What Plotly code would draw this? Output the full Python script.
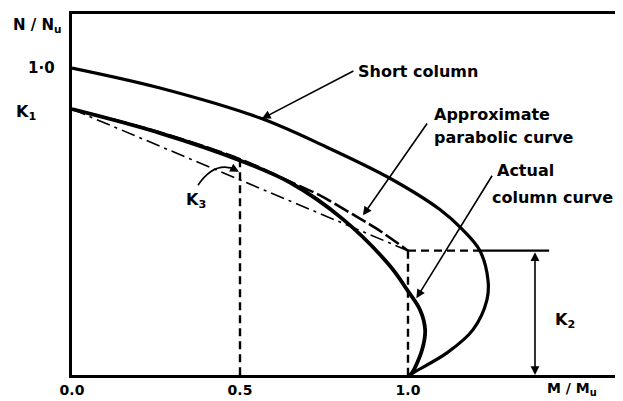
import plotly.graph_objects as go

# values (x = M/Mu, y = N/Nu)
K1 = 0.866
K2 = 0.405

short_x = [0.0, 0.262, 0.560, 0.753, 0.946, 1.095, 1.161, 1.214, 1.238, 1.235, 1.193, 1.116, 1.015, 1.006]
short_y = [1.0, 0.935, 0.837, 0.745, 0.641, 0.539, 0.475, 0.405, 0.310, 0.245, 0.147, 0.072, 0.007, 0.0]

actual_x = [0.0, 0.262, 0.5, 0.649, 0.807, 0.946, 0.997, 1.036, 1.051, 1.042, 1.012, 1.004]
actual_y = [K1, 0.788, 0.699, 0.627, 0.507, 0.356, 0.278, 0.212, 0.147, 0.082, 0.007, 0.0]

parab_x = [0.0, 0.262, 0.5, 0.649, 0.738, 0.827, 0.902, 1.0]
parab_y = [K1, 0.790, 0.703, 0.630, 0.585, 0.529, 0.480, K2]

chord_x = [0.0, 1.0]
chord_y = [K1, K2]

K2_dash_end = 1.214
K2_line_end = 1.42
K2_arrow_x = 1.378

X_MAX = 1.631
Y_MAX = 1.176

FONT = dict(family="DejaVu Sans", size=16, color="black", weight="bold")
INK = "black"

fig = go.Figure()

fig.add_trace(go.Scatter(x=short_x, y=short_y, mode="lines",
                         line=dict(color=INK, width=3.2, shape="spline")))
fig.add_trace(go.Scatter(x=actual_x, y=actual_y, mode="lines",
                         line=dict(color=INK, width=3.8, shape="spline")))
fig.add_trace(go.Scatter(x=parab_x, y=parab_y, mode="lines",
                         line=dict(color=INK, width=2.6, shape="spline", dash="16px,4px")))
fig.add_trace(go.Scatter(x=chord_x, y=chord_y, mode="lines",
                         line=dict(color=INK, width=1.6, dash="14px,5px,3px,5px")))

# dashed verticals at 0.5 and 1.0, horizontal at K2
fig.add_trace(go.Scatter(x=[0.5, 0.5], y=[parab_y[2], 0], mode="lines",
                         line=dict(color=INK, width=2.4, dash="8px,5px")))
fig.add_trace(go.Scatter(x=[1.0, 1.0], y=[K2, 0], mode="lines",
                         line=dict(color=INK, width=2.4, dash="8px,5px")))
fig.add_trace(go.Scatter(x=[1.0, K2_dash_end], y=[K2, K2], mode="lines",
                         line=dict(color=INK, width=2.2, dash="8px,5px")))
fig.add_trace(go.Scatter(x=[K2_dash_end, K2_line_end], y=[K2, K2], mode="lines",
                         line=dict(color=INK, width=2.2)))

# K3 curved pointer
fig.add_shape(type="path", path="M 0.375,0.618 Q 0.425,0.700 0.49,0.668",
              xref="x", yref="y", line=dict(color=INK, width=1.6))

ann = []


def arrow(x, y, ax, ay, side="end"):
    ann.append(dict(x=x, y=y, ax=ax, ay=ay, xref="x", yref="y", axref="x", ayref="y",
                    text="", showarrow=True, arrowhead=2, arrowsize=1.1, arrowwidth=1.6,
                    arrowcolor=INK, arrowside=side))


def label(text, x, y, xanchor="left", size=16):
    # placed in paper units so labels outside the axes still show
    f = dict(FONT)
    f["size"] = size
    ann.append(dict(x=x / X_MAX, y=y / Y_MAX, xref="paper", yref="paper", text=text,
                    showarrow=False, xanchor=xanchor, yanchor="middle", font=f))


arrow(0.565, 0.835, 0.842, 0.993)
label("Short column", 0.845, 0.99)

arrow(0.866, 0.520, 1.060, 0.824)
label("Approximate", 1.071, 0.850)
label("parabolic curve", 1.071, 0.775)

arrow(1.025, 0.250, 1.253, 0.654)
label("Actual", 1.259, 0.667)
label("column curve", 1.244, 0.578)

arrow(K2_arrow_x, 0.0, K2_arrow_x, K2, side="end+start")
label("K<sub>2</sub>", 1.432, 0.176)

arrow(0.497, 0.662, 0.485, 0.669)
label("K<sub>3</sub>", 0.369, 0.569, xanchor="center")

label("N / N<sub>u</sub>", -0.104, 1.137, xanchor="center", size=15)
label("1·0", -0.045, 1.0, xanchor="right", size=15)
label("K<sub>1</sub>", -0.101, K1 - 0.01, xanchor="right", size=16)
label("M / M<sub>u</sub>", 1.488, -0.046, xanchor="center", size=14)

# page body keeps an 8px margin, so the figure is 8px smaller and shifted
fig.update_layout(
    width=615,
    height=393,
    margin=dict(l=64, r=3, t=4, b=21),
    paper_bgcolor="white",
    plot_bgcolor="white",
    showlegend=False,
    annotations=ann,
    xaxis=dict(range=[0, X_MAX], showgrid=False, zeroline=False,
               showline=True, linecolor=INK, linewidth=2.5, mirror=True,
               tickvals=[0, 0.5, 1.0], ticktext=["0.0", "0.5", "1.0"], ticks="",
               tickfont=dict(family="DejaVu Sans", size=14, color="black", weight="bold")),
    yaxis=dict(range=[0, Y_MAX], showgrid=False, zeroline=False,
               showline=True, linecolor=INK, linewidth=2.5, mirror=False,
               showticklabels=False, ticks=""),
)

fig.write_html("out.html")
